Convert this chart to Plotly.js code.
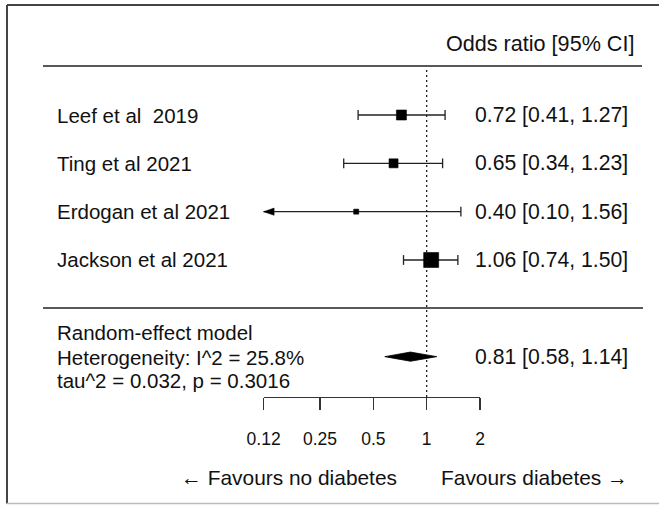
<!DOCTYPE html>
<html>
<head>
<meta charset="utf-8">
<script src="https://cdn.plot.ly/plotly-3.0.1.min.js"></script>
<style>html,body{margin:0;padding:0;background:#fff;}#chart{width:659px;height:505px;}</style>
</head>
<body>
<div id="chart"></div>
<script>
// ---------- data ----------
const studies = ['Leef et al\u00a0 2019', 'Ting et al 2021', 'Erdogan et al 2021', 'Jackson et al 2021'];
const orEst  = [0.72, 0.65, 0.40, 1.06];
const ciLow  = [0.41, 0.34, 0.10, 0.74];
const ciHigh = [1.27, 1.23, 1.56, 1.50];
const pooledLabel = 'Random-effect model';
const pooledEst = [0.81];
const pooledLow = [0.58];
const pooledHigh = [1.14];
const hetLines = ['Heterogeneity: I^2 = 25.8%', 'tau^2 = 0.032, p = 0.3016'];
const headerText = 'Odds ratio [95% CI]';
const tickVals = [0.12, 0.25, 0.5, 1, 2];
const tickText = ['0.12', '0.25', '0.5', '1', '2'];
const favourLeft = '\u2190 Favours no diabetes';
const favourRight = 'Favours diabetes \u2192';

// ---------- layout constants ----------
const W = 659, H = 505;
const FONT = 'Liberation Sans, Arial, sans-serif';
const FS = 20.5;
const FS_RIGHT = 21.2;
const FS_HEAD = 21.6;
const INK = '#111';
const LINE = '#222';
const PAD = 2; // annotation inner padding compensation
const axLeftPx = 263.6, axRightPx = 480;
const loT = Math.log10(tickVals[0]), hiT = Math.log10(tickVals[tickVals.length - 1]);
const k = (hiT - loT) / (axRightPx - axLeftPx);
const xRange = [loT - axLeftPx * k, hiT + (W - axRightPx) * k];
// rows: row 0 at 115px, 48.33px per row
const row0Px = 115, rowPx = 48.33;
const yRange = [(H - row0Px) / rowPx, (0 - row0Px) / rowPx];
const rowOf = p => (p - row0Px) / rowPx;
const studyRows = studies.map((_, i) => i);
const pooledRow = 5;
const axisRowPx = 397;
const boxSize = [10, 9, 5, 15];
const alim = tickVals[0];

const traces = [];
// CI lines
studies.forEach((s, i) => {
  traces.push({
    type: 'scatter', mode: 'lines', xaxis: 'x', yaxis: 'y',
    x: [Math.max(ciLow[i], alim), ciHigh[i]], y: [studyRows[i], studyRows[i]],
    line: {color: LINE, width: 1.3}, hoverinfo: 'skip', showlegend: false
  });
});
// caps
const capX = [], capY = [];
studies.forEach((s, i) => {
  if (ciLow[i] >= alim) { capX.push(ciLow[i]); capY.push(studyRows[i]); }
  capX.push(ciHigh[i]); capY.push(studyRows[i]);
});
traces.push({
  type: 'scatter', mode: 'markers', x: capX, y: capY,
  marker: {symbol: 'line-ns-open', size: 7, color: LINE, opacity: 1, line: {color: LINE, width: 1.3}},
  hoverinfo: 'skip', showlegend: false, cliponaxis: false
});
// arrows for truncated CIs
studies.forEach((s, i) => {
  if (ciLow[i] < alim) {
    const base = alim * Math.pow(2, 10.5 / 53.33);
    const h = 3.6 / rowPx;
    traces.push({
      type: 'scatter', mode: 'lines', fill: 'toself', fillcolor: '#000',
      x: [alim, base, base, alim], y: [studyRows[i], studyRows[i] - h, studyRows[i] + h, studyRows[i]],
      line: {color: '#000', width: 0.5}, hoverinfo: 'skip', showlegend: false
    });
  }
});
// boxes
traces.push({
  type: 'scatter', mode: 'markers', x: orEst, y: studyRows,
  marker: {symbol: 'square', size: boxSize, color: '#000', opacity: 1, line: {color: '#000', width: 0.6}},
  hoverinfo: 'skip', showlegend: false, cliponaxis: false
});
// reference line at 1
traces.push({
  type: 'scatter', mode: 'lines', x: [1, 1], y: [rowOf(70), rowOf(axisRowPx)],
  line: {color: '#111', width: 1.2, dash: '2px,3px'}, hoverinfo: 'skip', showlegend: false
});
// diamond
const dh = 4.6 / rowPx;
traces.push({
  type: 'scatter', mode: 'lines', fill: 'toself', fillcolor: '#000',
  x: [pooledLow[0], pooledEst[0], pooledHigh[0], pooledEst[0], pooledLow[0]],
  y: [pooledRow, pooledRow - dh, pooledRow, pooledRow + dh, pooledRow],
  line: {color: '#000', width: 0.8}, hoverinfo: 'skip', showlegend: false
});
// dummy trace for the visible axis
traces.push({type: 'scatter', mode: 'markers', xaxis: 'x2', yaxis: 'y', x: [1], y: [null], showlegend: false, hoverinfo: 'skip'});

const fmt = v => v.toFixed(2);
const ann = [];
const txt = (text, xpx, row, anchor, size) => ann.push({
  xref: 'paper', yref: 'y',
  x: (xpx + (anchor === 'left' ? -PAD : PAD)) / W, y: row, text: text, showarrow: false,
  xanchor: anchor, yanchor: 'middle', font: {family: FONT, size: size || FS, color: INK}
});
txt(headerText, 634, rowOf(43), 'right', FS_HEAD);
studies.forEach((s, i) => {
  txt(s, 56.7, studyRows[i], 'left');
  txt(fmt(orEst[i]) + ' [' + fmt(ciLow[i]) + ', ' + fmt(ciHigh[i]) + ']', 628, studyRows[i], 'right', FS_RIGHT);
});
txt(pooledLabel, 56.7, rowOf(332), 'left');
txt(hetLines[0], 56.7, rowOf(357), 'left');
txt(hetLines[1], 56.7, rowOf(380), 'left');
txt(fmt(pooledEst[0]) + ' [' + fmt(pooledLow[0]) + ', ' + fmt(pooledHigh[0]) + ']', 628, pooledRow, 'right', FS_RIGHT);
txt(favourLeft, 397, rowOf(477), 'right', 20.9);
txt(favourRight, 440.7, rowOf(477), 'left', 20.9);

const shapes = [
  {type: 'line', xref: 'paper', yref: 'y', x0: 43 / W, x1: 642 / W, y0: rowOf(66), y1: rowOf(66), line: {color: '#222', width: 1.4}},
  {type: 'line', xref: 'paper', yref: 'y', x0: 43 / W, x1: 643 / W, y0: rowOf(308), y1: rowOf(308), line: {color: '#222', width: 1.4}},
  // frame
  {type: 'line', xref: 'paper', yref: 'paper', x0: 7 / W, x1: 7 / W, y0: 1 - 5 / H, y1: 1 - 503.5 / H, line: {color: '#444', width: 2}},
  {type: 'line', xref: 'paper', yref: 'paper', x0: 7 / W, x1: 1, y0: 1 - 5 / H, y1: 1 - 5 / H, line: {color: '#444', width: 2}},
  {type: 'line', xref: 'paper', yref: 'paper', x0: 7 / W, x1: 1, y0: 1 - 503.5 / H, y1: 1 - 503.5 / H, line: {color: '#bbb', width: 1.5}}
];

const layout = {
  width: W, height: H,
  margin: {l: 0, r: 0, t: 0, b: 0, pad: 0},
  paper_bgcolor: '#fff', plot_bgcolor: 'rgba(0,0,0,0)',
  showlegend: false,
  xaxis: {type: 'log', range: xRange, domain: [0, 1], visible: false, fixedrange: true},
  yaxis: {range: yRange, domain: [0, 1], visible: false, fixedrange: true},
  xaxis2: {
    type: 'log', range: [loT, hiT], domain: [axLeftPx / W, axRightPx / W],
    anchor: 'free', position: 1 - axisRowPx / H, side: 'bottom',
    showline: true, linecolor: '#333', linewidth: 1.3,
    ticks: 'outside', ticklen: 12, tickwidth: 1.3, tickcolor: '#333',
    tickvals: tickVals, ticktext: tickText, ticklabelstandoff: 14,
    tickfont: {family: FONT, size: 17.5, color: INK},
    showgrid: false, zeroline: false, fixedrange: true
  },
  annotations: ann, shapes: shapes
};

Plotly.newPlot('chart', traces, layout, {displayModeBar: false, staticPlot: true});
</script>
</body>
</html>
